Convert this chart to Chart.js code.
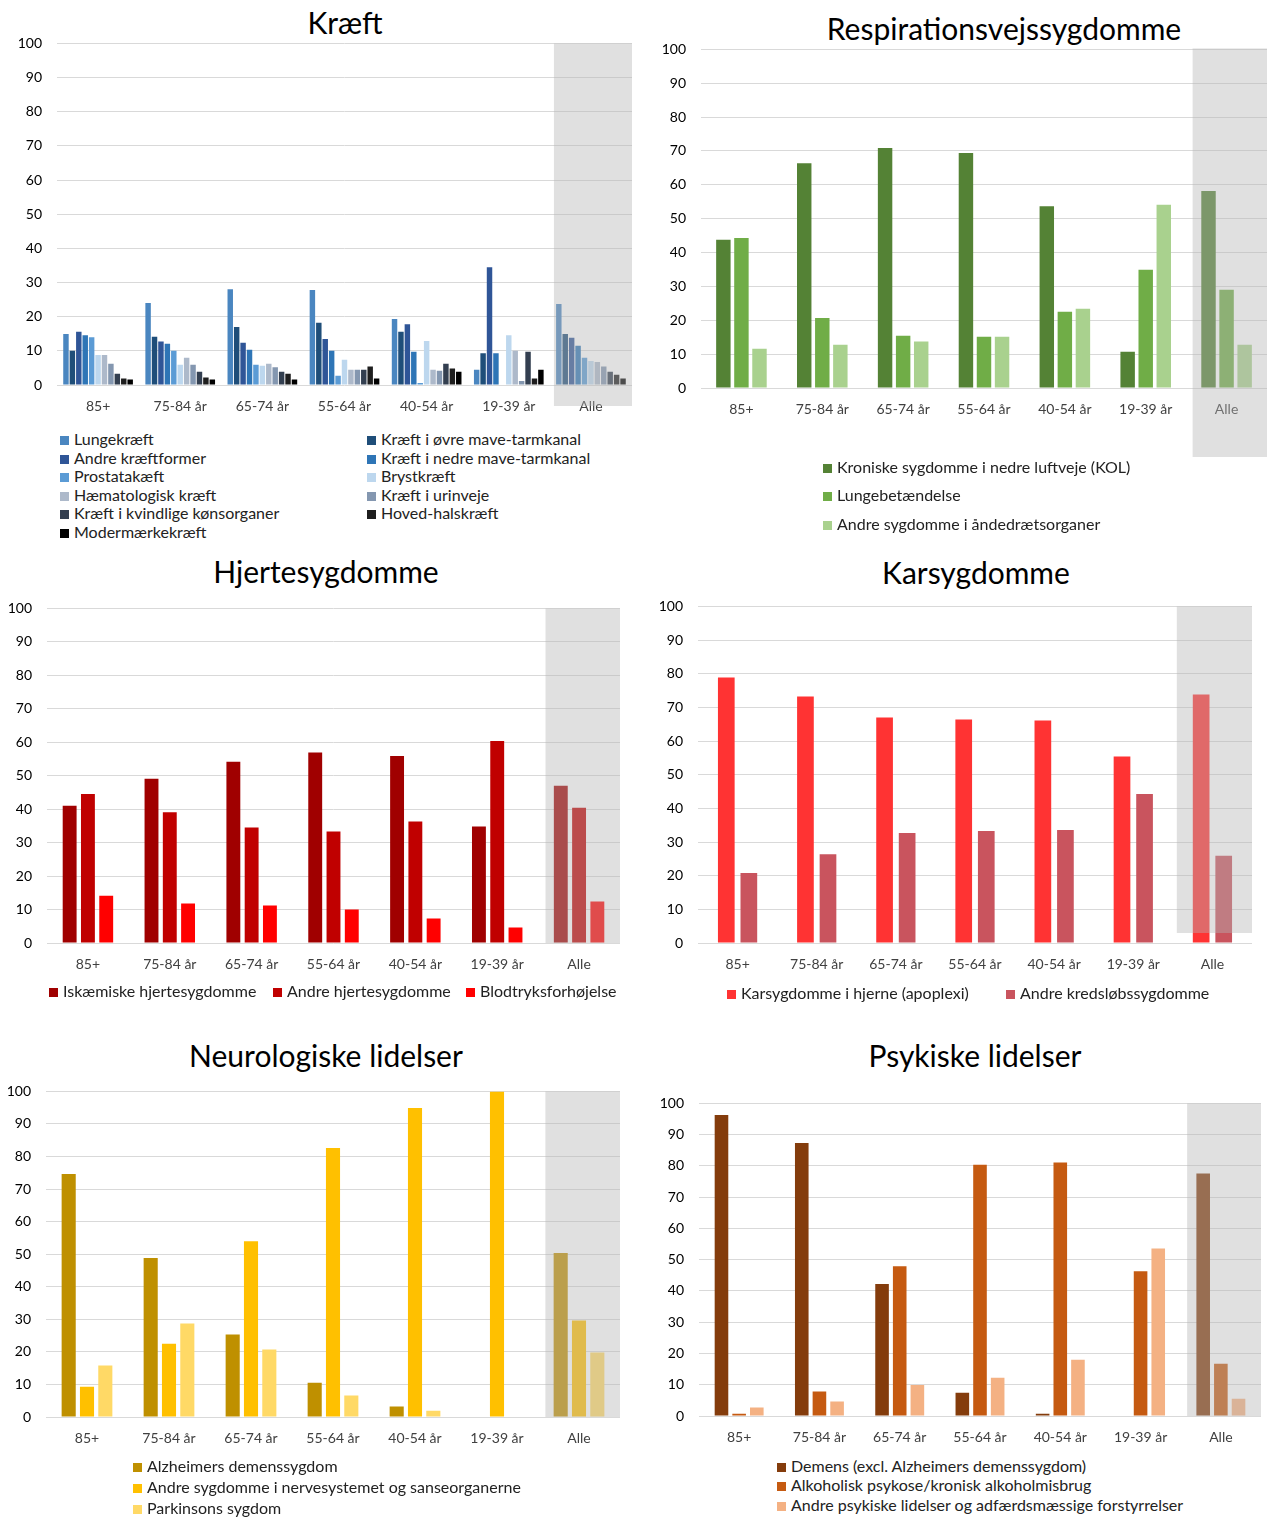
<!DOCTYPE html>
<html>
<head>
<meta charset="utf-8">
<script src="https://cdn.jsdelivr.net/npm/chart.js@4.4.0/dist/chart.umd.min.js"></script>
<style>
  body { margin: 0; background: #fff; }
  #page { position: relative; width: 1267px; height: 1517px; overflow: hidden; font-family: Lato, "Open Sans", sans-serif; }
  canvas { position: absolute; }
  .title { position: absolute; width: 600px; text-align: center; font-size: 30px; color: #000; line-height: 36px; }
  .item { position: absolute; font-size: 16px; line-height: 18px; color: #222; white-space: nowrap; }
  .sw { display: inline-block; width: 9px; height: 9px; margin-right: 5px; vertical-align: 0px; }
</style>
</head>
<body>
<div id="page"></div>
<script>
// age groups used on every x axis
const ageGroups = ["85+", "75-84 år", "65-74 år", "55-64 år", "40-54 år", "19-39 år", "Alle"];
const yTicks = [0, 10, 20, 30, 40, 50, 60, 70, 80, 90, 100];

// Kræft
const kraeftNames = ["Lungekræft", "Kræft i øvre mave-tarmkanal", "Andre kræftformer", "Kræft i nedre mave-tarmkanal",
  "Prostatakæft", "Brystkræft", "Hæmatologisk kræft", "Kræft i urinveje", "Kræft i kvindlige kønsorganer",
  "Hoved-halskræft", "Modermærkekræft"];
const kraeftColors = ["#4A86C0", "#1F4E79", "#2F5597", "#2E75B6", "#5B9BD5", "#BDD7EE", "#ADB9CA", "#8497B0", "#333F50", "#1E1E1E", "#000000"];
const kraeftValues = [
  [14.9, 24.0, 28.0, 27.8, 19.3, 4.5, 23.7],
  [10.0, 14.1, 17.0, 18.2, 15.6, 9.3, 14.9],
  [15.6, 12.7, 12.4, 13.5, 17.8, 34.5, 13.8],
  [14.6, 12.1, 10.3, 10.0, 9.7, 9.3, 11.5],
  [14.0, 10.0, 5.9, 2.7, 0.6, 0, 8.0],
  [8.8, 5.9, 5.6, 7.4, 12.9, 14.6, 7.0],
  [8.8, 8.0, 6.2, 4.5, 4.5, 10.0, 6.7],
  [6.2, 5.9, 5.2, 4.5, 4.2, 1.2, 5.4],
  [3.3, 3.9, 3.9, 4.5, 6.2, 9.7, 3.9],
  [1.9, 2.2, 3.3, 5.4, 4.8, 1.9, 3.0],
  [1.6, 1.6, 1.6, 1.9, 3.9, 4.5, 1.9]
];

// Respirationsvejssygdomme
const respNames = ["Kroniske sygdomme i nedre luftveje (KOL)", "Lungebetændelse", "Andre sygdomme i åndedrætsorganer"];
const respColors = ["#548235", "#70AD47", "#A9D18E"];
const respValues = [
  [43.8, 66.4, 70.9, 69.4, 53.7, 10.7, 58.2],
  [44.3, 20.7, 15.4, 15.1, 22.5, 34.9, 29.0],
  [11.6, 12.8, 13.7, 15.1, 23.4, 54.1, 12.8]
];

// Hjertesygdomme
const hjerteNames = ["Iskæmiske hjertesygdomme", "Andre hjertesygdomme", "Blodtryksforhøjelse"];
const hjerteColors = ["#A00000", "#C00000", "#FF0000"];
const hjerteValues = [
  [41.0, 49.1, 54.2, 56.9, 55.9, 34.8, 47.0],
  [44.5, 39.1, 34.5, 33.3, 36.3, 60.4, 40.4],
  [14.1, 11.8, 11.2, 10.0, 7.3, 4.6, 12.4]
];

// Karsygdomme
const karNames = ["Karsygdomme i hjerne (apoplexi)", "Andre kredsløbssygdomme"];
const karColors = ["#FF3333", "#C9545E"];
const karValues = [
  [78.9, 73.2, 67.0, 66.4, 66.1, 55.4, 73.8],
  [20.8, 26.4, 32.7, 33.3, 33.6, 44.3, 25.9]
];

// Neurologiske lidelser
const neuroNames = ["Alzheimers demenssygdom", "Andre sygdomme i nervesystemet og sanseorganerne", "Parkinsons sygdom"];
const neuroColors = ["#BF9000", "#FFC000", "#FFD966"];
const neuroValues = [
  [74.6, 48.8, 25.3, 10.5, 3.2, 0, 50.4],
  [9.3, 22.5, 54.0, 82.6, 94.9, 100, 29.6],
  [15.8, 28.7, 20.7, 6.6, 1.9, 0, 19.8]
];

// Psykiske lidelser
const psykNames = ["Demens (excl. Alzheimers demenssygdom)", "Alkoholisk psykose/kronisk alkoholmisbrug", "Andre psykiske lidelser og adfærdsmæssige forstyrrelser"];
const psykColors = ["#843C0C", "#C55A11", "#F4B183"];
const psykValues = [
  [96.3, 87.3, 42.2, 7.4, 0.7, 0, 77.6],
  [0.7, 7.8, 47.9, 80.4, 81.1, 46.3, 16.7],
  [2.7, 4.6, 9.9, 12.2, 18.0, 53.6, 5.5]
];

const page = document.getElementById("page");

// grey see-through box over the "Alle" group (also tints the bars under it)
const alleShade = {
  id: "alleShade",
  afterDatasetsDraw(chart, args, o) {
    const a = chart.chartArea;
    const n = chart.data.labels.length;
    const cw = (a.right - a.left) / n;
    const cx = chart.scales.x.getPixelForValue(n - 1);
    const left = cx - cw * o.inset;
    const ctx = chart.ctx;
    ctx.save();
    ctx.fillStyle = "rgba(182,182,182,0.42)";
    ctx.fillRect(left, a.top + o.top, a.right - left, a.bottom + o.extra - a.top - o.top);
    ctx.restore();
  }
};

function addTitle(text, cx, cy) {
  let d = document.createElement("div");
  d.className = "title";
  d.style.left = (cx - 300) + "px";
  d.style.top = (cy - 18) + "px";
  d.textContent = text;
  page.appendChild(d);
}

// legend entries, pos is a list of [x, y] (swatch left, text middle)
function addLegend(names, colors, pos) {
  for (let i = 0; i < names.length; i++) {
    let d = document.createElement("div");
    d.className = "item";
    d.style.left = pos[i][0] + "px";
    d.style.top = (pos[i][1] - 9) + "px";
    d.innerHTML = '<span class="sw" style="background:' + colors[i] + '"></span>' + names[i];
    page.appendChild(d);
  }
}

function buildChart(c, w, h, names, colors, values, o) {
  c.width = w; c.height = h;
  c.style.width = w + "px"; c.style.height = h + "px";

  let datasets = [];
  for (let i = 0; i < names.length; i++) {
    datasets.push({
      label: names[i],
      data: values[i],
      backgroundColor: colors[i],
      categoryPercentage: o.cat,
      barPercentage: o.bar
    });
  }

  return new Chart(c, {
    type: "bar",
    data: { labels: ageGroups, datasets: datasets },
    options: {
      responsive: false,
      animation: false,
      devicePixelRatio: 1,
      layout: { padding: { top: 15, right: o.padR, left: 0, bottom: 0 }, autoPadding: false },
      plugins: {
        legend: { display: false },
        tooltip: { enabled: false },
        alleShade: { inset: o.inset, extra: o.extra, top: o.shadeTop || 0 }
      },
      scales: {
        x: {
          grid: { display: false },
          border: { display: false },
          ticks: { color: "#404040", font: { family: "Lato", size: 14 }, padding: o.tickPad, maxRotation: 0, autoSkip: false },
          afterFit: (s) => { s.height = o.xH; }
        },
        y: {
          min: 0, max: 100,
          afterBuildTicks: (s) => { s.ticks = yTicks.map(v => ({ value: v })); },
          grid: { color: "#D9D9D9", lineWidth: 1, drawTicks: false },
          border: { display: false },
          ticks: { color: "#000", font: { family: "Lato", size: 14 }, padding: 15 },
          afterFit: (s) => { s.width = 60; }
        }
      }
    },
    plugins: [alleShade]
  });
}

// box = plot area on the page; build once, measure, rebuild so the plot area lands on the box
function makeChart(box, names, colors, values, o) {
  let c = document.createElement("canvas");
  page.appendChild(c);
  let w = box.right - box.left + 60 + o.padR;
  let h = box.bottom - box.top + 15 + o.xH;
  let chart = buildChart(c, w, h, names, colors, values, o);
  let areaH = chart.chartArea.bottom - chart.chartArea.top;
  if (Math.abs(areaH - (box.bottom - box.top)) > 0.5) {
    h = h + (box.bottom - box.top) - areaH;
    chart.destroy();
    chart = buildChart(c, w, h, names, colors, values, o);
  }
  c.style.left = (box.left - chart.chartArea.left) + "px";
  c.style.top = (box.top - chart.chartArea.top) + "px";
  return chart;
}

// Kræft
addTitle("Kræft", 345, 22);
makeChart({ left: 57, right: 632, top: 43, bottom: 385 }, kraeftNames, kraeftColors, kraeftValues,
  { padR: 8, xH: 40, cat: 0.86, bar: 0.85, tickPad: 5, inset: 0.45, extra: 21 });
let kPos = [];
for (let i = 0; i < kraeftNames.length; i++) {
  kPos.push([i % 2 == 0 ? 60 : 367, 439 + Math.floor(i / 2) * 18.6]);
}
addLegend(kraeftNames, kraeftColors, kPos);

// Respirationsvejssygdomme
addTitle("Respirationsvejssygdomme", 1004, 28);
makeChart({ left: 701, right: 1267, top: 49, bottom: 388 }, respNames, respColors, respValues,
  { padR: 0, xH: 72, cat: 0.67, bar: 0.8, tickPad: 5, inset: 0.42, extra: 69, shadeTop: -1 });
addLegend(respNames, respColors, [[823, 467], [823, 495], [823, 524]]);

// Hjertesygdomme
addTitle("Hjertesygdomme", 326, 571);
makeChart({ left: 47, right: 620, top: 608, bottom: 943 }, hjerteNames, hjerteColors, hjerteValues,
  { padR: 8, xH: 40, cat: 0.67, bar: 0.76, tickPad: 5, inset: 0.41, extra: 0 });
addLegend(hjerteNames, hjerteColors, [[49, 991], [273, 991], [466, 991]]);

// Karsygdomme
addTitle("Karsygdomme", 976, 572);
makeChart({ left: 698, right: 1252, top: 606, bottom: 943 }, karNames, karColors, karValues,
  { padR: 8, xH: 40, cat: 0.57, bar: 0.74, tickPad: 5, inset: 0.45, extra: -10 });
addLegend(karNames, karColors, [[727, 993], [1006, 993]]);

// Neurologiske lidelser
addTitle("Neurologiske lidelser", 326, 1055);
makeChart({ left: 46, right: 620, top: 1091, bottom: 1417 }, neuroNames, neuroColors, neuroValues,
  { padR: 8, xH: 40, cat: 0.67, bar: 0.77, tickPad: 5, inset: 0.41, extra: 0 });
addLegend(neuroNames, neuroColors, [[133, 1466], [133, 1487], [133, 1508]]);

// Psykiske lidelser
addTitle("Psykiske lidelser", 975, 1055);
makeChart({ left: 699, right: 1261, top: 1103, bottom: 1416 }, psykNames, psykColors, psykValues,
  { padR: 6, xH: 40, cat: 0.66, bar: 0.77, tickPad: 5, inset: 0.42, extra: 0 });
addLegend(psykNames, psykColors, [[777, 1466], [777, 1485], [777, 1505]]);
</script>
</body>
</html>
